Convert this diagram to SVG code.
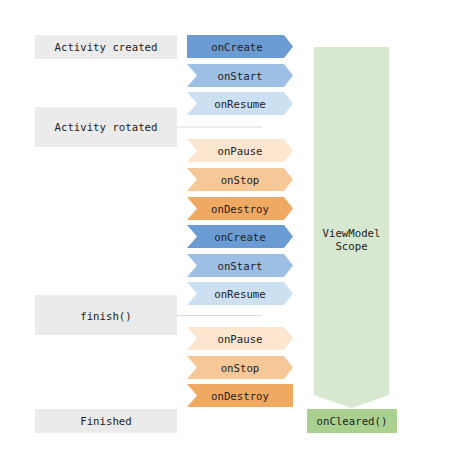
<svg xmlns="http://www.w3.org/2000/svg" width="458" height="472" viewBox="0 0 458 472">
  <defs>
    <style>
      text { font-family: "DejaVu Sans Mono", "Liberation Mono", monospace; font-size: 10.7px; fill: #222; text-anchor: middle; dominant-baseline: central; }
      .event { fill: #ebebeb; }
      .link { stroke: #dcdcdc; stroke-width: 1; fill: none; }
      .c1 { fill: #6a9bd3; }
      .c2 { fill: #9dbfe4; }
      .c3 { fill: #cde0f2; }
      .d1 { fill: #fde6cf; }
      .d2 { fill: #f6c898; }
      .d3 { fill: #f0a961; }
      .scope { fill: #d6e8d0; }
      .cleared { fill: #a9d08e; }
    </style>
    <!-- chevron shapes, 106 wide, 23 tall, drawn at origin -->
    <path id="chev-first" d="M0,0 H97 L106,11.5 L97,23 H0 Z"/>
    <path id="chev" d="M0,0 H97 L106,11.5 L97,23 H0 L10,11.5 Z"/>
    <path id="chev-last" d="M0,0 H106 V23 H0 L10,11.5 Z"/>
  </defs>

  <!-- background -->
  <rect width="458" height="472" fill="#ffffff"/>

  <!-- connectors -->
  <g id="connectors">
    <line class="link" x1="177" y1="127" x2="262" y2="127"/>
    <line class="link" x1="177" y1="315.5" x2="262" y2="315.5"/>
  </g>

  <!-- activity events -->
  <g id="activity-created">
    <rect class="event" x="35" y="35" width="142" height="24"/>
    <text x="106" y="47.5">Activity created</text>
  </g>
  <g id="activity-rotated">
    <rect class="event" x="35" y="107" width="142" height="40"/>
    <text x="106" y="127.5">Activity rotated</text>
  </g>
  <g id="finish-call">
    <rect class="event" x="35" y="295" width="142" height="40"/>
    <text x="106" y="316">finish()</text>
  </g>
  <g id="finished">
    <rect class="event" x="35" y="409" width="142" height="24"/>
    <text x="106" y="421.5">Finished</text>
  </g>

  <!-- lifecycle callbacks -->
  <g id="cb-oncreate-1">
    <use href="#chev-first" class="c1" x="187" y="35"/>
    <text x="237" y="47">onCreate</text>
  </g>
  <g id="cb-onstart-1">
    <use href="#chev" class="c2" x="187" y="64"/>
    <text x="240" y="76">onStart</text>
  </g>
  <g id="cb-onresume-1">
    <use href="#chev" class="c3" x="187" y="92"/>
    <text x="240" y="104">onResume</text>
  </g>
  <g id="cb-onpause-1">
    <use href="#chev" class="d1" x="187" y="139"/>
    <text x="240" y="151">onPause</text>
  </g>
  <g id="cb-onstop-1">
    <use href="#chev" class="d2" x="187" y="168"/>
    <text x="240" y="180">onStop</text>
  </g>
  <g id="cb-ondestroy-1">
    <use href="#chev" class="d3" x="187" y="197"/>
    <text x="240" y="209">onDestroy</text>
  </g>
  <g id="cb-oncreate-2">
    <use href="#chev" class="c1" x="187" y="225"/>
    <text x="240" y="237">onCreate</text>
  </g>
  <g id="cb-onstart-2">
    <use href="#chev" class="c2" x="187" y="254"/>
    <text x="240" y="266">onStart</text>
  </g>
  <g id="cb-onresume-2">
    <use href="#chev" class="c3" x="187" y="282"/>
    <text x="240" y="294">onResume</text>
  </g>
  <g id="cb-onpause-2">
    <use href="#chev" class="d1" x="187" y="327"/>
    <text x="240" y="339">onPause</text>
  </g>
  <g id="cb-onstop-2">
    <use href="#chev" class="d2" x="187" y="356"/>
    <text x="240" y="368">onStop</text>
  </g>
  <g id="cb-ondestroy-2">
    <use href="#chev-last" class="d3" x="187" y="384"/>
    <text x="240" y="396.5">onDestroy</text>
  </g>

  <!-- ViewModel scope -->
  <g id="viewmodel-scope">
    <path class="scope" d="M314,47 H389 V395 L351.5,408 L314,395 Z"/>
    <text x="351.5" y="233.5">ViewModel</text>
    <text x="351.5" y="246.5">Scope</text>
  </g>
  <g id="on-cleared">
    <rect class="cleared" x="307" y="409" width="90" height="24"/>
    <text x="352" y="421.5">onCleared()</text>
  </g>
</svg>
